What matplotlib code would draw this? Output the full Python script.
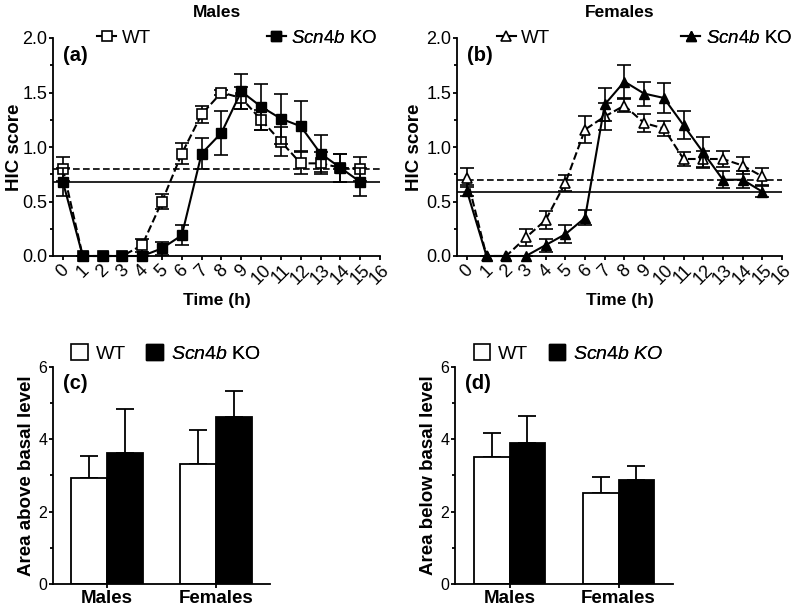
import matplotlib
matplotlib.use("Agg")
import matplotlib.pyplot as plt
import numpy as np
from matplotlib.lines import Line2D
from matplotlib.patches import Patch
from matplotlib.ticker import MultipleLocator

plt.rcParams["font.family"] = ["Liberation Sans", "DejaVu Sans"]
plt.rcParams["mathtext.fontset"] = "custom"
plt.rcParams["mathtext.rm"] = "Liberation Sans"
plt.rcParams["mathtext.it"] = "Liberation Sans:italic"
plt.rcParams["mathtext.bf"] = "Liberation Sans:bold"

# ---- time-course data (HIC score, mean +/- SEM) ----
hours = list(range(16))
males_wt = [0.80, 0, 0, 0, 0.10, 0.50, 0.94, 1.30, 1.50, 1.45, 1.25, 1.05, 0.85, 0.85, 0.81, 0.80]
males_wt_err = [0.11, 0, 0, 0, 0.06, 0.07, 0.10, 0.08, 0.02, 0.10, 0.09, 0.13, 0.10, 0.10, 0.13, 0.11]
males_ko = [0.68, 0, 0, 0, 0, 0.07, 0.19, 0.94, 1.13, 1.51, 1.37, 1.26, 1.19, 0.94, 0.81, 0.68]
males_ko_err = [0.13, 0, 0, 0, 0, 0.06, 0.09, 0.14, 0.20, 0.16, 0.21, 0.23, 0.23, 0.17, 0.13, 0.13]
females_wt = [0.72, 0, 0, 0.17, 0.33, 0.67, 1.16, 1.28, 1.38, 1.22, 1.17, 0.89, 0.89, 0.89, 0.83, 0.73]
females_wt_err = [0.09, 0, 0, 0.08, 0.08, 0.07, 0.12, 0.12, 0.06, 0.08, 0.07, 0.06, 0.07, 0.07, 0.08, 0.08]
females_ko = [0.60, 0, 0, 0, 0.10, 0.20, 0.35, 1.39, 1.60, 1.49, 1.45, 1.20, 0.95, 0.70, 0.70, 0.59]
females_ko_err = [0.05, 0, 0, 0, 0.06, 0.08, 0.07, 0.15, 0.15, 0.11, 0.14, 0.13, 0.14, 0.08, 0.08, 0.05]

# basal levels (horizontal reference lines)
males_basal = {"wt": 0.80, "ko": 0.68}
females_basal = {"wt": 0.70, "ko": 0.59}

# ---- area data ----
groups = ["Males", "Females"]
above_wt = [2.92, 3.31]
above_wt_err = [0.62, 0.93]
above_ko = [3.63, 4.62]
above_ko_err = [1.20, 0.71]
below_wt = [3.52, 2.52]
below_wt_err = [0.64, 0.43]
below_ko = [3.89, 2.87]
below_ko_err = [0.75, 0.38]

LW = 1.5


def style_axes(ax):
    ax.spines["top"].set_visible(False)
    ax.spines["right"].set_visible(False)
    ax.spines["left"].set_linewidth(1.3)
    ax.spines["bottom"].set_linewidth(1.3)
    ax.tick_params(direction="out", width=1.3, length=3, pad=1)
    ax.tick_params(which="minor", direction="out", width=1.3, length=2)


def time_course(ax, wt, wt_err, ko, ko_err, basal, marker, title, letter,
                ylab_x, leg_wt_x, leg_ko_x):
    ax.axhline(basal["wt"], color="black", lw=1.2, ls=(0, (4, 2)), zorder=1)
    ax.axhline(basal["ko"], color="black", lw=1.2, zorder=1)
    ax.errorbar(hours, wt, yerr=wt_err, color="black", lw=LW, ls="--",
                marker=marker, ms=7.5, mfc="white", mec="black", mew=1.2,
                capsize=4.7, elinewidth=1.2, capthick=1.2, clip_on=False, zorder=3)
    ax.errorbar(hours, ko, yerr=ko_err, color="black", lw=LW, ls="-",
                marker=marker, ms=7.5, mfc="black", mec="black",
                capsize=4.7, elinewidth=1.2, capthick=1.2, clip_on=False, zorder=4)
    ax.set_xlim(-0.5, 16)
    ax.set_ylim(0, 2.0)
    ax.set_xticks(range(17))
    ax.set_xticklabels([str(i) for i in range(17)], rotation=45, ha="center",
                       va="top", fontsize=13)
    ax.yaxis.set_minor_locator(MultipleLocator(0.25))
    ax.set_yticks([0, 0.5, 1.0, 1.5, 2.0])
    ax.set_yticklabels(["0.0", "0.5", "1.0", "1.5", "2.0"], fontsize=13)
    style_axes(ax)
    ax.set_xlabel("Time (h)", fontsize=12.5, weight="bold")
    ax.xaxis.set_label_coords(0.5, -0.17)
    ax.set_ylabel("HIC score", fontsize=13.5, weight="bold")
    ax.yaxis.set_label_coords(ylab_x, 0.5)
    ax.text(0.5, 1.117, title, transform=ax.transAxes, ha="center", va="center",
            fontsize=12.5, weight="bold")
    ax.text(0.03, 0.965, letter, transform=ax.transAxes, ha="left", va="top",
            fontsize=14.5, weight="bold")
    h_wt = Line2D([], [], color="black", lw=LW, marker=marker, ms=7.5,
                  mfc="white", mec="black", mew=1.2)
    h_ko = Line2D([], [], color="black", lw=LW, marker=marker, ms=7.5,
                  mfc="black", mec="black")
    for h, lab, x in [(h_wt, "WT", leg_wt_x), (h_ko, r"$\mathit{Scn4b}$ KO", leg_ko_x)]:
        leg = ax.legend(handles=[h], labels=[lab], loc="center left",
                        bbox_to_anchor=(x, 1.0), frameon=False, borderpad=0,
                        borderaxespad=0, handlelength=1.0, handletextpad=0.3,
                        fontsize=13.5)
        ax.add_artist(leg)


def area_bars(ax, wt, wt_err, ko, ko_err, ylabel, letter, ko_label, ylab_x):
    x = np.arange(len(groups))
    w = 0.33
    ax.bar(x - w / 2, wt, w, color="white", edgecolor="black", lw=1.3, zorder=2)
    ax.bar(x + w / 2, ko, w, color="black", edgecolor="black", lw=1.3, zorder=2)
    ax.errorbar(x - w / 2, wt, yerr=[np.zeros(len(wt)), wt_err], fmt="none",
                ecolor="black", elinewidth=1.3, capsize=6.8, capthick=1.3, zorder=1)
    ax.errorbar(x + w / 2, ko, yerr=[np.zeros(len(ko)), ko_err], fmt="none",
                ecolor="black", elinewidth=1.3, capsize=6.8, capthick=1.3, zorder=1)
    ax.set_xlim(-0.5, 1.5)
    ax.set_ylim(0, 6)
    ax.set_xticks(x)
    ax.set_xticklabels(groups, fontsize=13.5, weight="bold")
    ax.set_yticks([0, 2, 4, 6])
    ax.yaxis.set_minor_locator(MultipleLocator(1))
    ax.tick_params(axis="y", labelsize=11.5)
    style_axes(ax)
    ax.set_ylabel(ylabel, fontsize=13.5, weight="bold")
    ax.yaxis.set_label_coords(ylab_x, 0.5)
    ax.text(0.046, 0.965, letter, transform=ax.transAxes, ha="left", va="top",
            fontsize=14.5, weight="bold")
    h_wt = Patch(facecolor="white", edgecolor="black", lw=1.2)
    h_ko = Patch(facecolor="black", edgecolor="black")
    for h, lab, xx in [(h_wt, "WT", 0.085), (h_ko, ko_label, 0.43)]:
        leg = ax.legend(handles=[h], labels=[lab], loc="center left",
                        bbox_to_anchor=(xx, 1.06), frameon=False, borderpad=0,
                        borderaxespad=0, handlelength=0.85, handleheight=0.85,
                        handletextpad=0.4, fontsize=14)
        ax.add_artist(leg)


fig = plt.figure(figsize=(8, 6.1), dpi=100)
ax_a = fig.add_axes([53 / 800, 1 - 256 / 610, 327 / 800, 218 / 610])
ax_b = fig.add_axes([457 / 800, 1 - 256 / 610, 325 / 800, 218 / 610])
ax_c = fig.add_axes([53 / 800, 1 - 584 / 610, 217 / 800, 217.3 / 610])
ax_d = fig.add_axes([455 / 800, 1 - 584 / 610, 218 / 800, 217.3 / 610])

time_course(ax_a, males_wt, males_wt_err, males_ko, males_ko_err, males_basal,
            "s", "Males", "(a)", -0.092, 0.135, 0.654)
time_course(ax_b, females_wt, females_wt_err, females_ko, females_ko_err,
            females_basal, "^", "Females", "(b)", -0.105, 0.123, 0.69)
area_bars(ax_c, above_wt, above_wt_err, above_ko, above_ko_err,
          "Area above basal level", "(c)", r"$\mathit{Scn4b}$ KO", -0.083)
area_bars(ax_d, below_wt, below_wt_err, below_ko, below_ko_err,
          "Area below basal level", "(d)", r"$\mathit{Scn4b\ KO}$", -0.083)

fig.savefig("out.png", dpi=100)
